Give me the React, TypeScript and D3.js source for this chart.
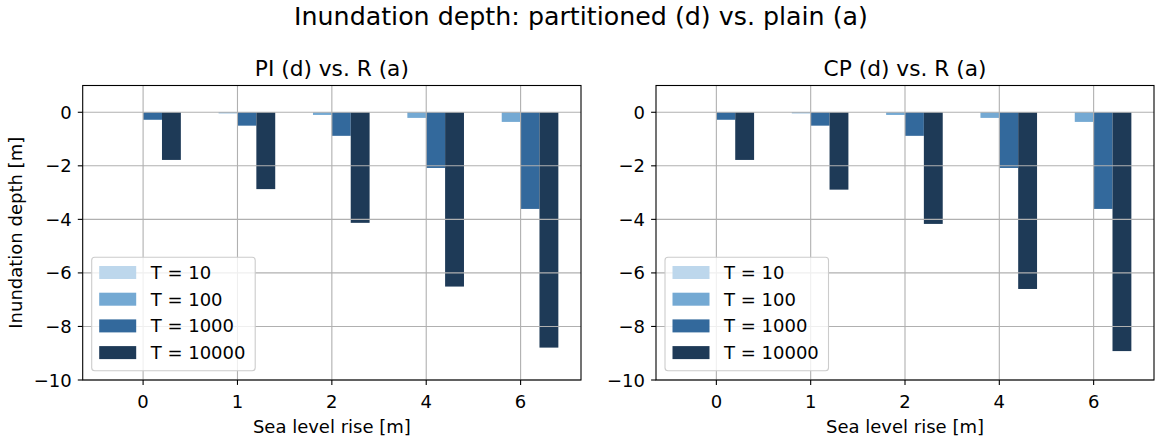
import React from 'react';
import * as d3 from 'd3';

const slr = ['0', '1', '2', '4', '6'];
const returnPeriods = ['T = 10', 'T = 100', 'T = 1000', 'T = 10000'];
const colors = ['#bdd7ec', '#74a9d3', '#33699c', '#1e3a57'];

// inundation depth difference per return period, one array per sea level rise
const piT10 = [0, 0, 0, 0, 0];
const piT100 = [0, -0.04, -0.1, -0.21, -0.36];
const piT1000 = [-0.28, -0.5, -0.88, -2.08, -3.61];
const piT10000 = [-1.78, -2.87, -4.13, -6.51, -8.79];

const cpT10 = [0, 0, 0, 0, 0];
const cpT100 = [0, -0.04, -0.1, -0.21, -0.36];
const cpT1000 = [-0.28, -0.5, -0.88, -2.08, -3.61];
const cpT10000 = [-1.78, -2.89, -4.17, -6.6, -8.92];

const yTicks = [0, -2, -4, -6, -8, -10];

const W = 1158;
const H = 439;
const FONT = "'DejaVu Sans', sans-serif";
const FS = 18;

const Panel = ({ x0, x1, title, series, showYLabel }: {
  x0: number; x1: number; title: string; series: number[][]; showYLabel: boolean;
}) => {
  const top = 85.5;
  const bottom = 380;
  const x = d3.scaleLinear().domain([-0.64, slr.length - 1 + 0.64]).range([x0, x1]);
  const y = d3.scaleLinear().domain([-10, 1]).range([bottom, top]);
  const bw = 0.2;
  const legendX = x0 + 9;
  const legendY = 257.3;

  return (
    <g>
      <text x={(x0 + x1) / 2} y={76} textAnchor="middle" fontSize={21.7} fontFamily={FONT}>{title}</text>
      {series.map((vals, s) =>
        vals.map((v, i) => {
          const bx = x(i + (s - 2) * bw);
          const bx2 = x(i + (s - 1) * bw);
          return (
            <rect key={`${s}-${i}`} x={bx} width={bx2 - bx} y={y(0)} height={Math.max(0, y(v) - y(0))} fill={colors[s]} />
          );
        })
      )}
      {slr.map((_, i) => (
        <line key={`gx${i}`} x1={x(i)} x2={x(i)} y1={top} y2={bottom} stroke="#b0b0b0" strokeWidth={1.1} />
      ))}
      {yTicks.map((t) => (
        <line key={`gy${t}`} x1={x0} x2={x1} y1={y(t)} y2={y(t)} stroke="#b0b0b0" strokeWidth={1.1} />
      ))}
      <rect x={x0} y={top} width={x1 - x0} height={bottom - top} fill="none" stroke="#000" strokeWidth={1.1} />
      {slr.map((c, i) => (
        <g key={`tx${i}`}>
          <line x1={x(i)} x2={x(i)} y1={bottom} y2={bottom + 4.9} stroke="#000" strokeWidth={1.1} />
          <text x={x(i)} y={408} textAnchor="middle" fontSize={FS} fontFamily={FONT}>{c}</text>
        </g>
      ))}
      {yTicks.map((t) => (
        <g key={`ty${t}`}>
          <line x1={x0 - 4.9} x2={x0} y1={y(t)} y2={y(t)} stroke="#000" strokeWidth={1.1} />
          <text x={x0 - 11} y={y(t) + 6.5} textAnchor="end" fontSize={FS} fontFamily={FONT}>{t < 0 ? `\u2212${-t}` : t}</text>
        </g>
      ))}
      <text x={(x0 + x1) / 2} y={432.5} textAnchor="middle" fontSize={FS} fontFamily={FONT}>Sea level rise [m]</text>
      {showYLabel && (
        <text transform={`translate(21.5,${(top + bottom) / 2}) rotate(-90)`} textAnchor="middle" fontSize={FS} fontFamily={FONT}>Inundation depth [m]</text>
      )}
      <rect x={legendX} y={legendY} width={163.5} height={113.4} rx={3} fill="#fff" fillOpacity={0.8} stroke="#cccccc" strokeWidth={1.1} />
      {returnPeriods.map((lab, s) => (
        <g key={lab}>
          <rect x={legendX + 7.5} y={legendY + 8.7 + s * 26.7} width={37} height={13} fill={colors[s]} />
          <text x={legendX + 59} y={legendY + 21.7 + s * 26.7} fontSize={FS} fontFamily={FONT}>{lab}</text>
        </g>
      ))}
    </g>
  );
};

export default function App() {
  return (
    <svg width={W} height={H} style={{ position: 'absolute', left: 0, top: 0, background: '#fff' }}>
      <rect width={W} height={H} fill="#fff" />
      <text x={581} y={25} textAnchor="middle" fontSize={25.3} fontFamily={FONT}>Inundation depth: partitioned (d) vs. plain (a)</text>
      <Panel x0={82.7} x1={581} title="PI (d) vs. R (a)" series={[piT10, piT100, piT1000, piT10000]} showYLabel />
      <Panel x0={656} x1={1154} title="CP (d) vs. R (a)" series={[cpT10, cpT100, cpT1000, cpT10000]} showYLabel={false} />
    </svg>
  );
}
